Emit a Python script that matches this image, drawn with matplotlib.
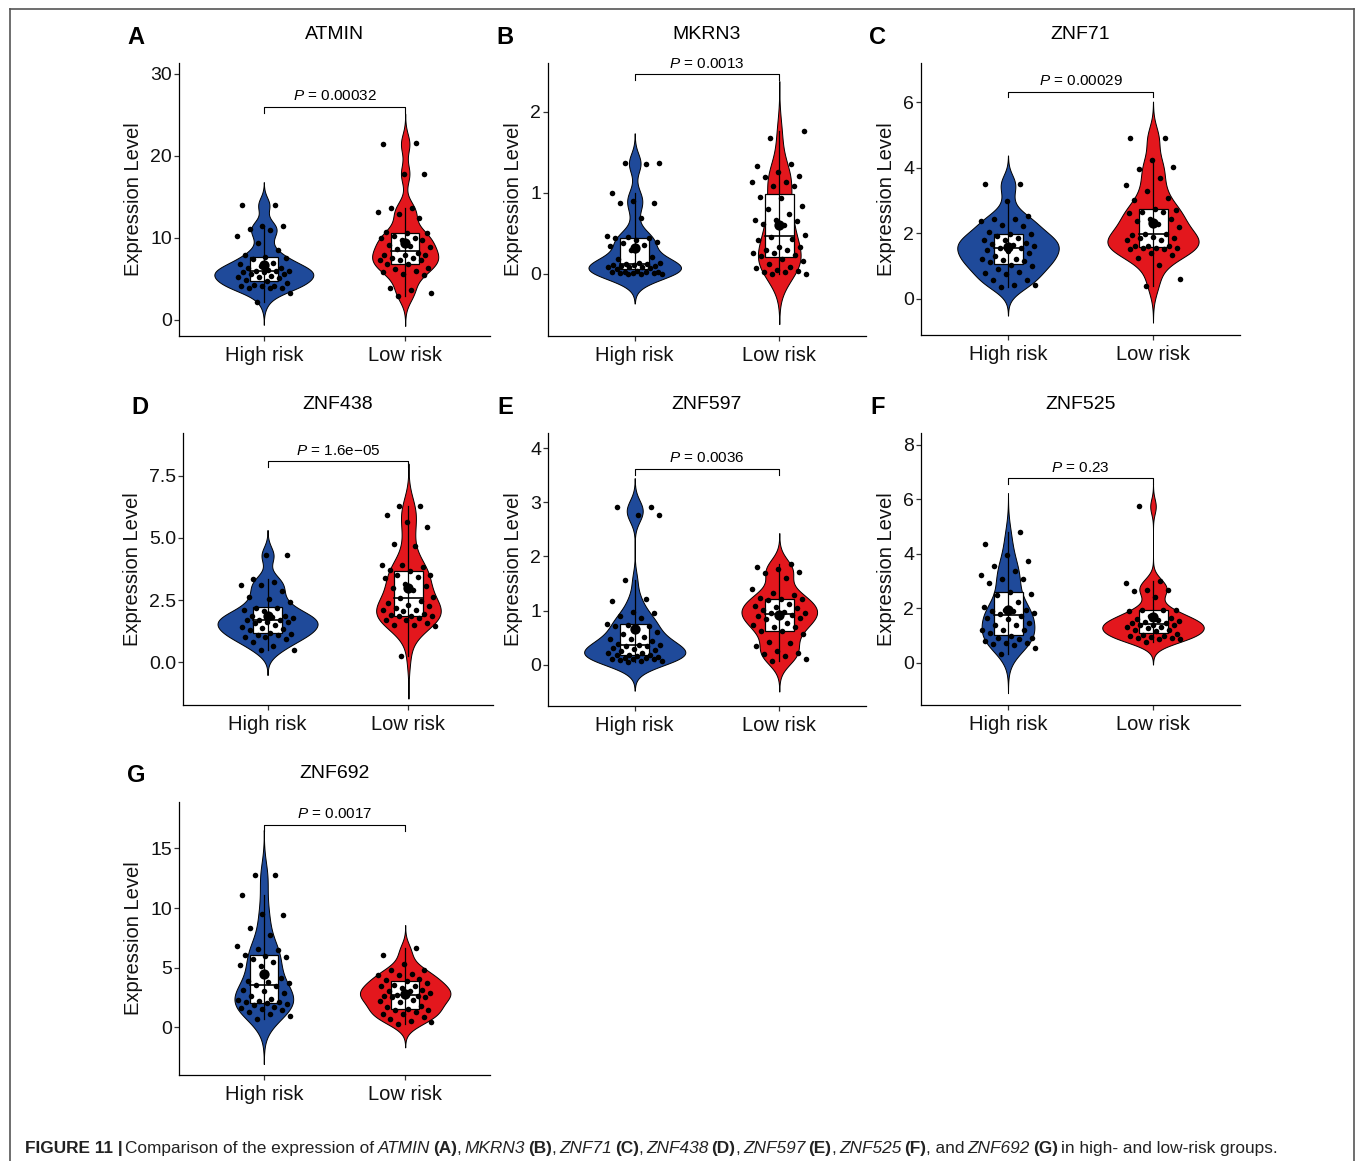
import numpy as np
import matplotlib
matplotlib.use('Agg')
import matplotlib.pyplot as plt
from matplotlib.patches import Rectangle
from matplotlib.lines import Line2D

plt.rcParams['font.family'] = ['Liberation Sans', 'DejaVu Sans']
plt.rcParams['mathtext.fontset'] = 'custom'
plt.rcParams['mathtext.it'] = 'Liberation Sans:italic'
plt.rcParams['mathtext.rm'] = 'Liberation Sans'

# ---------------- data ----------------
groups = ['High risk', 'Low risk']
genes = ['ATMIN', 'MKRN3', 'ZNF71', 'ZNF438', 'ZNF597', 'ZNF525', 'ZNF692']
letters = ['A', 'B', 'C', 'D', 'E', 'F', 'G']
p_values = ['0.00032', '0.0013', '0.00029', '1.6e\u221205', '0.0036', '0.23', '0.0017']

atmin_high = [2.2, 3.3, 3.9, 3.9, 3.9, 4.1, 4.1, 4.1, 4.3, 4.5, 4.7, 4.9, 5.1, 5.2, 5.2, 5.3, 5.6, 5.6, 5.8, 5.8,
              6.0, 6.0, 6.0, 6.1, 6.3, 6.3, 6.6, 6.8, 6.9, 7.4, 7.6, 7.7, 7.9, 8.5, 9.4, 10.2, 10.9, 11.05,
              11.5, 11.5, 14.0, 14.0]
atmin_low = [2.9, 3.3, 3.6, 3.9, 5.5, 5.6, 5.9, 6.0, 6.2, 6.3, 6.8, 6.8, 7.3, 7.3, 7.3, 7.5, 7.6, 7.9, 7.9, 7.9,
             8.1, 8.7, 8.9, 9.0, 9.1, 9.8, 9.8, 10.0, 10.0, 10.2, 10.6, 10.6, 10.7, 12.4, 12.9, 13.1, 13.6,
             13.6, 17.8, 17.8, 21.4, 21.5]
mkrn3_high = [0.0, 0.0, 0.0, 0.01, 0.01, 0.01, 0.02, 0.02, 0.03, 0.03, 0.04, 0.06, 0.07, 0.08, 0.08, 0.09, 0.10,
              0.10, 0.11, 0.11, 0.12, 0.12, 0.13, 0.14, 0.18, 0.21, 0.30, 0.35, 0.36, 0.38, 0.39, 0.42, 0.44,
              0.44, 0.45, 0.47, 0.69, 0.87, 0.88, 0.90, 1.0, 1.35, 1.37, 1.37]
mkrn3_low = [0.0, 0.0, 0.03, 0.03, 0.04, 0.05, 0.07, 0.09, 0.12, 0.16, 0.18, 0.22, 0.23, 0.26, 0.26, 0.30, 0.30,
             0.33, 0.33, 0.42, 0.43, 0.46, 0.48, 0.60, 0.61, 0.65, 0.67, 0.67, 0.74, 0.80, 0.84, 0.93, 0.95,
             1.09, 1.09, 1.13, 1.13, 1.19, 1.21, 1.26, 1.33, 1.35, 1.68, 1.76]
znf71_high = [0.36, 0.42, 0.44, 0.59, 0.59, 0.76, 0.79, 0.82, 0.90, 1.02, 1.05, 1.13, 1.17, 1.20, 1.22, 1.23,
              1.30, 1.40, 1.45, 1.50, 1.54, 1.56, 1.61, 1.66, 1.69, 1.71, 1.79, 1.81, 1.86, 1.93, 1.98, 1.98,
              2.05, 2.24, 2.25, 2.37, 2.45, 2.45, 2.52, 2.98, 3.51, 3.51]
znf71_low = [0.39, 0.62, 1.03, 1.25, 1.35, 1.40, 1.51, 1.51, 1.56, 1.56, 1.56, 1.61, 1.61, 1.63, 1.81, 1.81,
             1.86, 1.86, 1.90, 1.96, 1.97, 1.99, 2.20, 2.30, 2.37, 2.44, 2.44, 2.62, 2.64, 2.64, 2.70, 2.75,
             3.03, 3.08, 3.29, 3.47, 3.69, 3.97, 4.02, 4.25, 4.91, 4.91]
znf438_high = [0.50, 0.50, 0.63, 0.79, 0.93, 1.00, 1.03, 1.10, 1.10, 1.13, 1.19, 1.28, 1.33, 1.37, 1.41, 1.50,
               1.57, 1.61, 1.61, 1.70, 1.70, 1.70, 1.77, 1.80, 1.84, 1.84, 2.04, 2.08, 2.17, 2.17, 2.44, 2.54,
               2.64, 2.85, 3.11, 3.11, 3.21, 3.36, 4.30, 4.30]
znf438_low = [0.26, 1.44, 1.48, 1.50, 1.57, 1.70, 1.70, 1.77, 1.84, 1.84, 1.84, 1.88, 1.95, 2.04, 2.08, 2.11,
              2.17, 2.24, 2.31, 2.38, 2.48, 2.58, 2.62, 2.89, 2.98, 3.05, 3.15, 3.38, 3.41, 3.52, 3.52, 3.65,
              3.72, 3.85, 3.92, 3.92, 4.68, 4.75, 5.46, 5.64, 5.93, 6.27, 6.27]
znf597_high = [0.05, 0.07, 0.07, 0.08, 0.10, 0.10, 0.11, 0.12, 0.13, 0.15, 0.16, 0.18, 0.19, 0.19, 0.22, 0.22,
               0.25, 0.28, 0.30, 0.31, 0.34, 0.34, 0.36, 0.36, 0.39, 0.44, 0.47, 0.48, 0.52, 0.56, 0.60, 0.68,
               0.71, 0.72, 0.74, 0.76, 0.86, 0.90, 0.95, 0.97, 1.17, 1.22, 1.56, 2.76, 2.76, 2.92, 2.92]
znf597_low = [0.07, 0.10, 0.17, 0.20, 0.22, 0.25, 0.34, 0.41, 0.42, 0.57, 0.62, 0.62, 0.70, 0.70, 0.74, 0.78,
              0.84, 0.87, 0.90, 0.90, 0.92, 0.95, 0.96, 0.97, 1.02, 1.05, 1.07, 1.08, 1.13, 1.19, 1.21, 1.21,
              1.24, 1.28, 1.32, 1.40, 1.61, 1.70, 1.71, 1.76, 1.81, 1.87]
znf525_high = [0.33, 0.55, 0.67, 0.71, 0.73, 0.73, 0.79, 0.88, 0.92, 0.92, 0.98, 1.10, 1.20, 1.22, 1.22, 1.40,
               1.40, 1.47, 1.61, 1.65, 1.73, 1.78, 1.83, 1.89, 1.89, 1.93, 1.95, 2.05, 2.22, 2.50, 2.54, 2.60,
               2.93, 3.08, 3.08, 3.24, 3.36, 3.57, 3.72, 3.94, 4.37, 4.79]
znf525_low = [0.77, 0.88, 0.88, 0.92, 0.92, 0.95, 0.98, 1.00, 1.04, 1.06, 1.16, 1.22, 1.22, 1.28, 1.31, 1.32,
              1.40, 1.40, 1.40, 1.47, 1.47, 1.49, 1.53, 1.59, 1.61, 1.65, 1.71, 1.89, 1.95, 1.95, 1.95, 2.42,
              2.63, 2.69, 2.69, 2.93, 2.99, 5.74]
znf692_high = [0.70, 0.98, 1.1, 1.26, 1.48, 1.55, 1.62, 1.73, 1.87, 1.96, 2.04, 2.09, 2.15, 2.23, 2.32, 2.40,
               2.6, 2.9, 3.07, 3.10, 3.49, 3.55, 3.69, 3.77, 3.91, 4.11, 5.11, 5.25, 5.50, 5.73, 5.87, 6.00,
               6.09, 6.48, 6.56, 6.79, 7.74, 8.32, 9.44, 9.50, 11.12, 12.77, 12.77]
znf692_low = [0.28, 0.47, 0.50, 0.70, 0.89, 1.12, 1.12, 1.26, 1.48, 1.48, 1.54, 1.68, 1.76, 2.09, 2.23, 2.29,
              2.51, 2.55, 2.60, 2.62, 2.65, 2.71, 2.85, 3.07, 3.07, 3.16, 3.30, 3.49, 3.49, 3.55, 3.69, 3.91,
              3.99, 4.05, 4.39, 4.41, 4.47, 4.80, 4.83, 5.31, 6.06, 6.62]

high_sets = [atmin_high, mkrn3_high, znf71_high, znf438_high, znf597_high, znf525_high, znf692_high]
low_sets = [atmin_low, mkrn3_low, znf71_low, znf438_low, znf597_low, znf525_low, znf692_low]

y_ticks = [[0, 10, 20, 30], [0, 1, 2], [0, 2, 4, 6], [0, 2.5, 5, 7.5], [0, 1, 2, 3, 4], [0, 2, 4, 6, 8],
           [0, 5, 10, 15]]
y_ticklabels = [['0', '10', '20', '30'], ['0', '1', '2'], ['0', '2', '4', '6'], ['0.0', '2.5', '5.0', '7.5'],
                ['0', '1', '2', '3', '4'], ['0', '2', '4', '6', '8'], ['0', '5', '10', '15']]

# ---------------- layout / style ----------------
W, H = 1355, 1161
colors = ['#1F4A9A', '#E3171D']
# panel rectangles in pixels: left, right, top, bottom
rects = [(179, 490, 63, 336), (548, 866, 63, 336), (921, 1240, 63, 335),
         (183, 493, 433, 705), (548, 866, 433, 706), (921, 1240, 433, 705),
         (179, 490, 802, 1075)]
y_lims = [(-1.95, 31.3), (-0.765, 2.6), (-1.1, 7.2), (-1.73, 9.23), (-0.76, 4.28), (-1.54, 8.43), (-4.0, 18.9)]
bracket_y = [26.0, 2.46, 6.33, 8.1, 3.62, 6.78, 17.0]
violin_w = [0.70, 0.64, 0.70, 0.71, 0.70, 0.70, 0.64]


def kde(v):
    # gaussian density with R's bw.nrd0, extended 3 bandwidths past the data
    v = np.asarray(v, float)
    n = len(v)
    sd = v.std(ddof=1)
    q1, q3 = np.percentile(v, [25, 75])
    lo = min(sd, (q3 - q1) / 1.34) or sd
    bw = 0.9 * lo * n ** -0.2
    y = np.linspace(v.min() - 3 * bw, v.max() + 3 * bw, 512)
    d = np.exp(-0.5 * ((y[:, None] - v[None, :]) / bw) ** 2).sum(1) / (n * bw * np.sqrt(2 * np.pi))
    return y, d


def jitter(n):
    return (((np.arange(n) * 0.618034 + 0.37) % 1.0) - 0.5) * 0.38


fig = plt.figure(figsize=(W / 100, H / 100), dpi=100)

for k in range(7):
    l, r, t, b = rects[k]
    ax = fig.add_axes([l / W, 1 - b / H, (r - l) / W, (b - t) / H])
    sets = [np.asarray(high_sets[k], float), np.asarray(low_sets[k], float)]
    dens = [kde(v) for v in sets]
    scale = violin_w[k] / 2 / max(d.max() for _, d in dens)

    for i, vals in enumerate(sets):
        x0 = i + 1
        yy, dd = dens[i]
        hw = dd * scale
        ax.fill_betweenx(yy, x0 - hw, x0 + hw, facecolor=colors[i], edgecolor='black', lw=0.7, zorder=1)
        q1, med, q3 = np.percentile(vals, [25, 50, 75])
        iqr = q3 - q1
        wlo = vals[vals >= q1 - 1.5 * iqr].min()
        whi = vals[vals <= q3 + 1.5 * iqr].max()
        ax.add_patch(Rectangle((x0 - 0.1, q1), 0.2, q3 - q1, facecolor='white', edgecolor='black',
                               lw=0.9, zorder=2))
        ax.plot([x0 - 0.1, x0 + 0.1], [med, med], color='black', lw=1.2, zorder=3)
        ax.plot([x0, x0], [wlo, whi], color='black', lw=0.9, zorder=3)
        ax.scatter(x0 + jitter(len(vals)), vals, s=16, color='black', lw=0, zorder=4)
        ax.scatter([x0], [vals.mean()], s=55, color='black', lw=0, zorder=5)

    # significance bracket
    ylo, yhi = y_lims[k]
    tick = 0.022 * (yhi - ylo)
    yb = bracket_y[k]
    ax.plot([1, 1, 2, 2], [yb - tick, yb, yb, yb - tick], color='black', lw=0.8)
    ax.annotate('$\\it{P}$ = ' + p_values[k], (1.5, yb), xytext=(0, 2.5), textcoords='offset points',
                ha='center', va='bottom', fontsize=11)

    ax.set_xlim(0.4, 2.6)
    ax.set_ylim(ylo, yhi)
    ax.set_xticks([1, 2])
    ax.set_xticklabels(groups)
    ax.set_yticks(y_ticks[k])
    ax.set_yticklabels(y_ticklabels[k])
    ax.spines['top'].set_visible(False)
    ax.spines['right'].set_visible(False)
    for s in ['left', 'bottom']:
        ax.spines[s].set_linewidth(0.9)
    ax.tick_params(axis='both', length=3.5, width=0.9, color='#333333', labelcolor='#111111', labelsize=14)
    ax.tick_params(axis='y', pad=1.5)
    ax.tick_params(axis='x', pad=3.5, labelsize=14.5)
    ax.set_ylabel('Expression Level', fontsize=14.5, labelpad=5, color='#111111')
    ax.set_title(genes[k], fontsize=14, pad=17)
    ax.set_facecolor('none')
    fig.text((l - 43) / W, 1 - (t - 26) / H, letters[k], fontsize=17, fontweight='bold',
             ha='center', va='center')

# outer frame
for xs, ys in [((9.5, 9.5), (H, 8.5)), ((9.5, 1353.5), (8.5, 8.5)), ((1353.5, 1353.5), (8.5, H))]:
    fig.add_artist(Line2D([x / W for x in xs], [1 - y / H for y in ys], color='#555555', lw=1.2))

# caption with mixed styles
caption = [('FIGURE 11 |', 'bold', 'normal', False), ('Comparison of the expression of', 'normal', 'normal', True),
           ('ATMIN', 'normal', 'italic', True), ('(A)', 'bold', 'normal', True), (',', 'normal', 'normal', False),
           ('MKRN3', 'normal', 'italic', True), ('(B)', 'bold', 'normal', True), (',', 'normal', 'normal', False),
           ('ZNF71', 'normal', 'italic', True), ('(C)', 'bold', 'normal', True), (',', 'normal', 'normal', False),
           ('ZNF438', 'normal', 'italic', True), ('(D)', 'bold', 'normal', True), (',', 'normal', 'normal', False),
           ('ZNF597', 'normal', 'italic', True), ('(E)', 'bold', 'normal', True), (',', 'normal', 'normal', False),
           ('ZNF525', 'normal', 'italic', True), ('(F)', 'bold', 'normal', True),
           (', and', 'normal', 'normal', False), ('ZNF692', 'normal', 'italic', True),
           ('(G)', 'bold', 'normal', True), ('in high- and low-risk groups.', 'normal', 'normal', True)]
cap_family = ['Liberation Sans Narrow', 'Liberation Sans']
renderer = fig.canvas.get_renderer()


def text_w(s, size, weight='normal', style='normal'):
    t = fig.text(0, 0, s, fontsize=size, fontweight=weight, fontstyle=style, family=cap_family)
    w = t.get_window_extent(renderer).width
    t.remove()
    return w


def caption_width(size):
    sp = text_w('a a', size) - text_w('aa', size)
    total = 0
    for s, wt, st, gap in caption:
        total += (sp * 0.6 if gap else 0) + text_w(s, size, wt, st)
    return total, sp


size = 12.0
tw, _ = caption_width(size)
size = size * (1279 - 25) / tw
_, sp = caption_width(size)
x = 25.0
for s, wt, st, gap in caption:
    if gap:
        x += sp * 0.6
    fig.text(x / W, 1 - 1153 / H, s, fontsize=size, fontweight=wt, fontstyle=st, family=cap_family,
             ha='left', va='baseline', color='#222222')
    x += text_w(s, size, wt, st)

fig.savefig('out.png', dpi=100)
